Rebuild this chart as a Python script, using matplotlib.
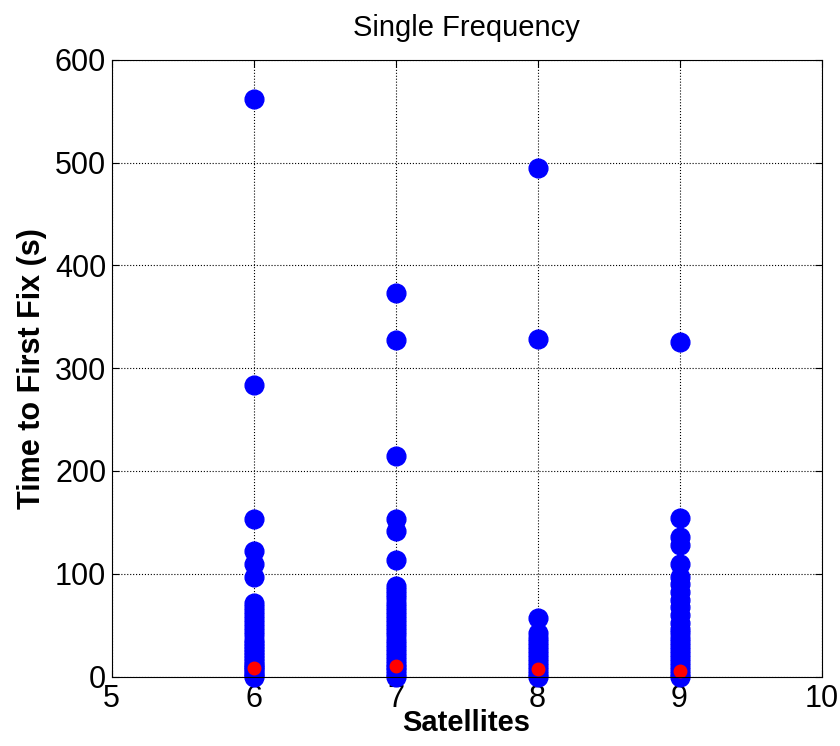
import matplotlib
matplotlib.use("Agg")
import matplotlib.pyplot as plt

plt.rcParams['font.family'] = ['Liberation Sans', 'DejaVu Sans']

# time to first fix per satellite count (s)
t6 = [562, 284, 153, 122, 110, 97, 72, 68, 64, 60, 56, 52, 48, 44, 40, 36, 33, 30, 27, 24,
      21, 18, 15, 12, 10, 8, 6, 4, 2, 0]
t7 = [373, 327, 215, 153, 142, 113, 88, 84, 80, 76, 72, 68, 64, 60, 56, 52, 48, 44, 40, 36,
      32, 28, 24, 20, 16, 12, 9, 6, 3, 0]
t8 = [495, 328, 57, 42, 38, 34, 30, 26, 22, 18, 14, 10, 6, 3, 0]
t9 = [325, 154, 136, 128, 110, 97, 90, 82, 75, 68, 60, 52, 46, 42, 38, 34, 30, 26, 22, 18,
      14, 10, 6, 3, 0]
sats = [6, 7, 8, 9]
blue = [t6, t7, t8, t9]
red = [8, 10, 7, 5]

fig = plt.figure(figsize=(8.4, 7.46), dpi=100)
ax = fig.add_axes([0.133, 0.093, 0.845, 0.827])

for s, vals in zip(sats, blue):
    ax.plot([s] * len(vals), vals, 'o', color='#0000ff', markersize=13.5, markeredgecolor='#0000ff', clip_on=False)
ax.plot(sats, red, 'o', color='#ff0000', markersize=9, markeredgecolor='#ff0000', clip_on=False)

ax.set_xlim(5, 10)
ax.set_ylim(0, 600)
ax.set_xticks([5, 6, 7, 8, 9, 10])
ax.set_yticks([0, 100, 200, 300, 400, 500, 600])
ax.grid(True, linestyle=':', color='black', linewidth=0.8)
ax.tick_params(direction='in', top=True, right=True, labelsize=22, length=5)
ax.tick_params(axis='x', pad=5)
ax.tick_params(axis='y', pad=4)
ax.set_title('Single Frequency', fontsize=21, pad=17)
ax.set_xlabel('Satellites', fontsize=21, fontweight='bold', labelpad=-3)
ax.set_ylabel('Time to First Fix (s)', fontsize=22, fontweight='bold', labelpad=6)

fig.savefig('out.png')
